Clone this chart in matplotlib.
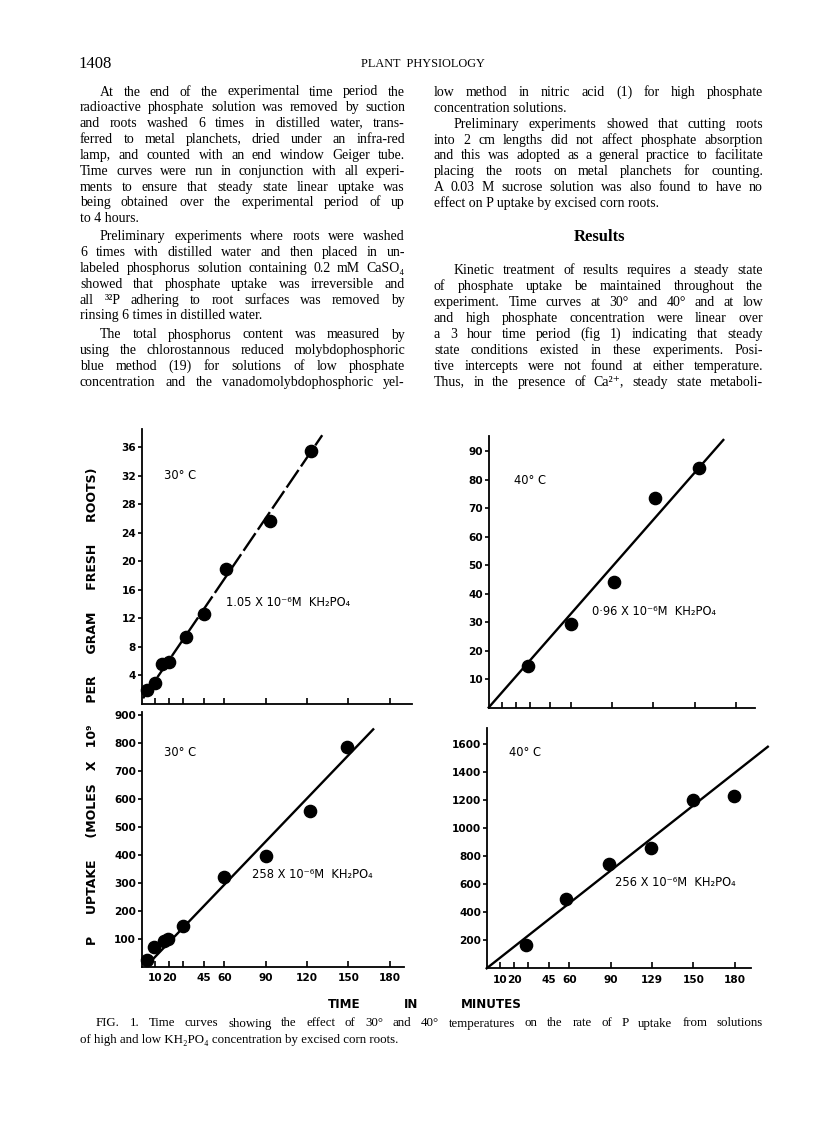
import matplotlib
matplotlib.use('Agg')
import matplotlib.pyplot as plt

# page size in pixels
W, H = 816, 1127

# ---- data (time in minutes, uptake in moles x 10^9 / g) ----
time_ticks = [10, 20, 30, 45, 60, 90, 120, 150, 180]
left_time_labels = ['10', '20', '', '45', '60', '90', '120', '150', '180']
right_time_labels = ['10', '20', '', '45', '60', '90', '129', '150', '180']

# 30 C, 1.05 x 10^-6 M KH2PO4
low30_time = [4, 10, 15, 20, 32, 45, 61, 93, 123]
low30_uptake = [2.0, 3.0, 5.6, 5.9, 9.4, 12.6, 19.0, 25.6, 35.5]
low30_fit_time = [1, 131]
low30_fit = [0.8, 37.7]
low30_yticks = [4, 8, 12, 16, 20, 24, 28, 32, 36]

# 40 C, 0.96 x 10^-6 M KH2PO4
low40_time = [29, 60, 91, 121, 153]
low40_uptake = [14.6, 29.2, 44.0, 73.7, 84.2]
low40_fit_time = [0, 171]
low40_fit = [0, 94]
low40_yticks = [10, 20, 30, 40, 50, 60, 70, 80, 90]

# 30 C, 258 x 10^-6 M KH2PO4
high30_time = [4, 9, 16, 19, 30, 60, 90, 122, 149]
high30_uptake = [23, 69, 90, 100, 145, 322, 396, 557, 788]
high30_fit_time = [4, 168]
high30_fit = [5, 850]
high30_yticks = [100, 200, 300, 400, 500, 600, 700, 800, 900]

# 40 C, 256 x 10^-6 M KH2PO4
high40_time = [28.5, 57.5, 89, 119, 150, 179.5]
high40_uptake = [166, 493, 742, 854, 1198, 1228]
high40_fit_time = [0, 204]
high40_fit = [0, 1577]
high40_yticks = [200, 400, 600, 800, 1000, 1200, 1400, 1600]

SERIF = ['Liberation Serif', 'DejaVu Serif']
SANS = ['DejaVu Sans']

fig = plt.figure(figsize=(W / 100, H / 100), dpi=100)
renderer = fig.canvas.get_renderer()


def fx(x):
    return x / W


def fy(y):
    return 1 - y / H


def px_axes(x_left, x_right, y_top, y_bottom):
    return fig.add_axes([x_left / W, 1 - y_bottom / H,
                         (x_right - x_left) / W, (y_bottom - y_top) / H])


def text_line(line, x0, x1, y, size=10, justify=True, **kw):
    # draw one line of body text, spread to fill x0..x1 like the print
    words = line.split()
    base = y + 3.5
    if not justify or len(words) == 1:
        fig.text(fx(x0), fy(base), line, size=size, family=SERIF,
                 va='baseline', **kw)
        return
    widths = []
    for w in words:
        t = fig.text(0, 0, w, size=size, family=SERIF, **kw)
        widths.append(t.get_window_extent(renderer).width)
        t.remove()
    gap = max((x1 - x0 - sum(widths)) / (len(words) - 1), 2)
    x = x0
    for w, wd in zip(words, widths):
        fig.text(fx(x), fy(base), w, size=size, family=SERIF, va='baseline', **kw)
        x += wd + gap


def paragraph(lines, x0, x1, y0, step=15.85, indent=20, first_indent=True, last_free=True):
    for i, line in enumerate(lines):
        start = x0 + (indent if (i == 0 and first_indent) else 0)
        last = (i == len(lines) - 1) and last_free
        text_line(line, start, x1, y0 + i * step, justify=not last)


# ---- page header ----
fig.text(fx(78), fy(68), '1408', size=12, family=SERIF, va='baseline')
fig.text(fx(423), fy(67), 'PLANT  PHYSIOLOGY', size=8.8, family=SERIF,
         va='baseline', ha='center')

# ---- left column ----
LX0, LX1 = 80, 405
paragraph([
    'At the end of the experimental time period the',
    'radioactive phosphate solution was removed by suction',
    'and roots washed 6 times in distilled water, trans-',
    'ferred to metal planchets, dried under an infra-red',
    'lamp, and counted with an end window Geiger tube.',
    'Time curves were run in conjunction with all experi-',
    'ments to ensure that steady state linear uptake was',
    'being obtained over the experimental period of up',
    'to 4 hours.',
], LX0, LX1, 92)
paragraph([
    'Preliminary experiments where roots were washed',
    '6 times with distilled water and then placed in un-',
    'labeled phosphorus solution containing 0.2 mM CaSO₄',
    'showed that phosphate uptake was irreversible and',
    'all ³²P adhering to root surfaces was removed by',
    'rinsing 6 times in distilled water.',
], LX0, LX1, 236.7)
paragraph([
    'The total phosphorus content was measured by',
    'using the chlorostannous reduced molybdophosphoric',
    'blue method (19) for solutions of low phosphate',
    'concentration and the vanadomolybdophosphoric yel-',
], LX0, LX1, 335, last_free=False)

# ---- right column ----
RX0, RX1 = 434, 763
paragraph([
    'low method in nitric acid (1) for high phosphate',
    'concentration solutions.',
], RX0, RX1, 92.5, first_indent=False)
paragraph([
    'Preliminary experiments showed that cutting roots',
    'into 2 cm lengths did not affect phosphate absorption',
    'and this was adopted as a general practice to facilitate',
    'placing the roots on metal planchets for counting.',
    'A 0.03 M sucrose solution was also found to have no',
    'effect on P uptake by excised corn roots.',
], RX0, RX1, 124.2)
fig.text(fx(600), fy(241), 'Results', size=12, family=SERIF, weight='bold',
         ha='center', va='baseline')
paragraph([
    'Kinetic treatment of results requires a steady state',
    'of phosphate uptake be maintained throughout the',
    'experiment. Time curves at 30° and 40° and at low',
    'and high phosphate concentration were linear over',
    'a 3 hour time period (fig 1) indicating that steady',
    'state conditions existed in these experiments. Posi-',
    'tive intercepts were not found at either temperature.',
    'Thus, in the presence of Ca²⁺, steady state metaboli-',
], RX0, RX1, 270.8, step=15.9, last_free=False)


# ---- the four panels ----
def draw_panel(ax, t, u, fit_t, fit_u, xmax, ymax, yticks, xlabels=None, dashed=False):
    ax.plot(fit_t, fit_u, color='black', lw=1.7,
            ls=(0, (9, 1.8)) if dashed else '-', clip_on=False)
    ax.plot(t, u, 'o', color='black', ms=8.8, clip_on=False)
    ax.set_xlim(0, xmax)
    ax.set_ylim(0, ymax)
    for s in ['top', 'right']:
        ax.spines[s].set_visible(False)
    for s in ['left', 'bottom']:
        ax.spines[s].set_linewidth(1.3)
    ax.set_xticks(time_ticks)
    ax.set_xticklabels(xlabels if xlabels else [])
    ax.set_yticks(yticks)
    ax.set_yticklabels([str(v) for v in yticks])
    ax.tick_params(axis='x', direction='in', length=4.5, width=1.2, pad=5, labelsize=7.6)
    ax.tick_params(axis='y', direction='out', length=3, width=1.2, pad=1, labelsize=7.6)
    for lab in ax.get_xticklabels() + ax.get_yticklabels():
        lab.set_fontweight('bold')
        lab.set_family(SANS)
    ax.patch.set_alpha(0)


ax1 = px_axes(141.7, 141.7 + 196 * 1.378, 704 - 38.6 * 7.13, 704)
draw_panel(ax1, low30_time, low30_uptake, low30_fit_time, low30_fit, 196, 38.6,
           low30_yticks, dashed=True)
ax2 = px_axes(488.7, 488.7 + 194 * 1.372, 707.5 - 95.4 * 2.846, 707.5)
draw_panel(ax2, low40_time, low40_uptake, low40_fit_time, low40_fit, 194, 95.4,
           low40_yticks)
ax3 = px_axes(141.7, 141.7 + 190 * 1.378, 966.5 - 912 * 0.279, 966.5)
draw_panel(ax3, high30_time, high30_uptake, high30_fit_time, high30_fit, 190, 912,
           high30_yticks, left_time_labels)
ax4 = px_axes(486.7, 486.7 + 192 * 1.378, 968.3 - 1710 * 0.1405, 968.3)
draw_panel(ax4, high40_time, high40_uptake, high40_fit_time, high40_fit, 192, 1710,
           high40_yticks, right_time_labels)

lab_kw = dict(size=8.3, family=SANS, va='center')
fig.text(fx(164), fy(475), '30° C', **lab_kw)
fig.text(fx(226), fy(602), '1.05 X 10⁻⁶M  KH₂PO₄', **lab_kw)
fig.text(fx(514), fy(480), '40° C', **lab_kw)
fig.text(fx(592), fy(612), '0·96 X 10⁻⁶M  KH₂PO₄', **lab_kw)
fig.text(fx(164), fy(752), '30° C', **lab_kw)
fig.text(fx(252), fy(875), '258 X 10⁻⁶M  KH₂PO₄', **lab_kw)
fig.text(fx(509), fy(753), '40° C', **lab_kw)
fig.text(fx(615), fy(882), '256 X 10⁻⁶M  KH₂PO₄', **lab_kw)

# shared axis titles
fig.text(fx(93), fy(706),
         'P     UPTAKE     (MOLES   X   10⁹     PER     GRAM     FRESH     ROOTS)',
         rotation=90, size=9, weight='bold', family=SANS, ha='center', va='center')
fig.text(fx(344), fy(1005), 'TIME', size=8.6, weight='bold', family=SANS, ha='center', va='center')
fig.text(fx(411), fy(1005), 'IN', size=8.6, weight='bold', family=SANS, ha='center', va='center')
fig.text(fx(491), fy(1005), 'MINUTES', size=8.6, weight='bold', family=SANS, ha='center', va='center')

# ---- caption ----
text_line('FIG. 1.  Time curves showing the effect of 30° and 40° temperatures on the rate of P uptake from solutions',
          96, 763, 1023, size=9.3)
text_line('of high and low KH₂PO₄ concentration by excised corn roots.', 80, 763, 1039,
          size=9.3, justify=False)

fig.savefig('out.png', dpi=100, facecolor='white')
